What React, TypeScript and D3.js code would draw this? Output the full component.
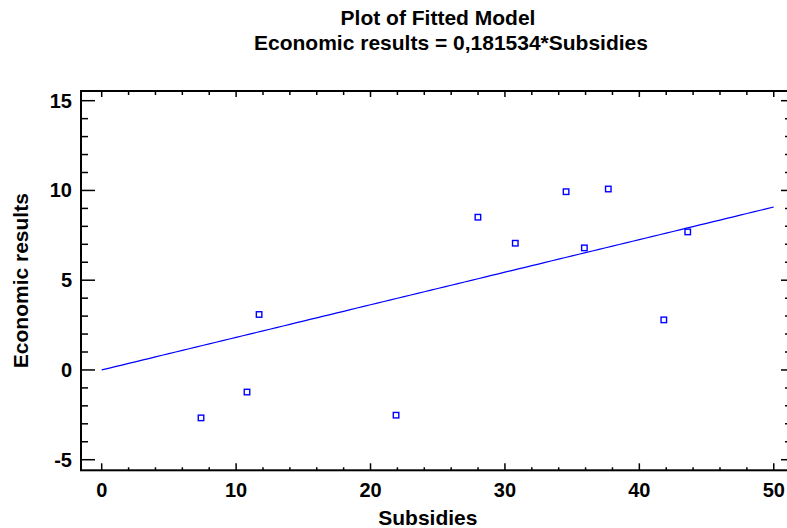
import React from "react";
import * as d3 from "d3";

const subsidies = [7.39, 10.81, 11.71, 21.9, 27.99, 30.77, 34.55, 35.91, 37.69, 41.82, 43.6];
const economicResults = [-2.67, -1.23, 3.09, -2.52, 8.51, 7.06, 9.93, 6.8, 10.08, 2.79, 7.69];
const slope = 0.181534;
const xTicks = [0, 10, 20, 30, 40, 50];
const yTicks = [-5, 0, 5, 10, 15];
const xMinorTicks = d3.range(0, 51, 2);
const yMinorTicks = d3.range(-5, 16, 1);

const W = 787;
const H = 528;
const left = 81;
const right = 788;
const top = 91;
const bottom = 470.3;

const FONT = "'Liberation Sans', Arial, Helvetica, sans-serif";
const BLUE = "#0000ff";

export default function App() {
  const x = d3.scaleLinear().domain([-1.54, 51.06]).range([left, right]);
  const y = d3.scaleLinear().domain([-5.59, 15.54]).range([bottom, top]);

  const fitX = d3.range(0, 50.01, 0.5);
  const fitLine = d3
    .line<number>()
    .x((d) => x(d))
    .y((d) => y(slope * d))(fitX) as string;

  const sq = 5.5;

  return (
    <svg
      width={W}
      height={H}
      style={{ position: "absolute", left: 0, top: 0, background: "#fff" }}
      fontFamily={FONT}
    >
      <rect x={0} y={0} width={W} height={H} fill="#fff" />

      {/* titles */}
      <text x={438} y={25} textAnchor="middle" fontSize={21} fontWeight="bold" fill="#000">
        Plot of Fitted Model
      </text>
      <text x={451} y={50} textAnchor="middle" fontSize={21} fontWeight="bold" fill="#000">
        Economic results = 0,181534*Subsidies
      </text>

      {/* fitted line */}
      <path d={fitLine} fill="none" stroke={BLUE} strokeWidth={1.2} />

      {/* observations */}
      {subsidies.map((sv, i) => (
        <rect
          key={i}
          x={x(sv) - sq / 2}
          y={y(economicResults[i]) - sq / 2}
          width={sq}
          height={sq}
          fill="none"
          stroke={BLUE}
          strokeWidth={1.4}
        />
      ))}

      {/* frame */}
      <rect x={left} y={top} width={right - left} height={bottom - top} fill="none" stroke="#000" strokeWidth={2} />

      {/* bottom & top ticks */}
      {xMinorTicks.map((t) => {
        const major = t % 10 === 0;
        return (
          <g key={"xt" + t} stroke="#000" strokeWidth={1.5}>
            <line x1={x(t)} x2={x(t)} y1={bottom} y2={bottom - (major ? 7 : 3)} />
            <line x1={x(t)} x2={x(t)} y1={top} y2={top + (major ? 6 : 4)} />
          </g>
        );
      })}

      {/* left & right ticks */}
      {yMinorTicks.map((t) => {
        const major = t % 5 === 0;
        return (
          <g key={"yt" + t} stroke="#000" strokeWidth={1.5}>
            <line x1={left} x2={left + (major ? 14 : 7)} y1={y(t)} y2={y(t)} />
            <line x1={right} x2={right - (major ? 7 : 3)} y1={y(t)} y2={y(t)} />
          </g>
        );
      })}

      {/* tick labels */}
      {xTicks.map((t) => (
        <text key={"xl" + t} x={x(t)} y={497} textAnchor="middle" fontSize={20} fontWeight="bold" fill="#000">
          {t}
        </text>
      ))}
      {yTicks.map((t) => (
        <text
          key={"yl" + t}
          x={72}
          y={y(t)}
          dy="0.35em"
          textAnchor="end"
          fontSize={20}
          fontWeight="bold"
          fill="#000"
        >
          {t}
        </text>
      ))}

      {/* axis titles */}
      <text x={(left + x(50)) / 2 + 0.5} y={525} textAnchor="middle" fontSize={21} fontWeight="bold" fill="#000">
        Subsidies
      </text>
      <text
        transform={`translate(27.5, ${(top + bottom) / 2}) rotate(-90)`}
        textAnchor="middle"
        fontSize={21}
        fontWeight="bold"
        fill="#000"
      >
        Economic results
      </text>
    </svg>
  );
}
